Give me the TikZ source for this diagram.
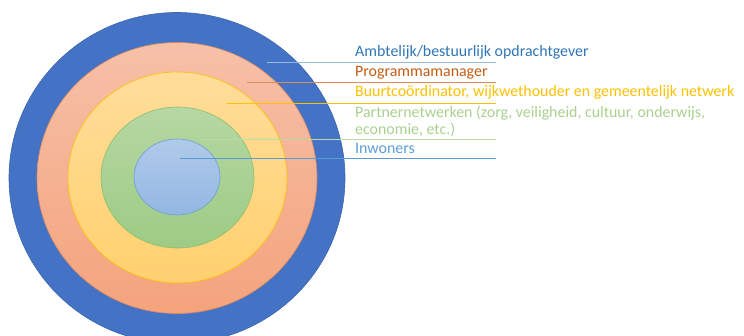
\documentclass[tikz,border=0pt]{standalone}
\usepackage{fontspec}
\setmainfont{Carlito}
\usetikzlibrary{shapes.geometric}

\definecolor{outerblue}{HTML}{4472C4}
\definecolor{outerrim}{HTML}{3A64B0}
\definecolor{salmontop}{HTML}{F6C0A8}
\definecolor{salmonbot}{HTML}{F4A37C}
\definecolor{salmonrim}{HTML}{D98A60}
\definecolor{yellowtop}{HTML}{FFDD9A}
\definecolor{yellowbot}{HTML}{FFD06E}
\definecolor{yellowrim}{HTML}{FFC000}
\definecolor{greentop}{HTML}{B6D7A3}
\definecolor{greenbot}{HTML}{9DCB84}
\definecolor{greenrim}{HTML}{8CBF6C}
\definecolor{bluetop}{HTML}{B0CAEA}
\definecolor{bluebot}{HTML}{93B7E2}
\definecolor{bluerim}{HTML}{6A9FD6}
\definecolor{ambtxt}{HTML}{2E75B6}
\definecolor{progtxt}{HTML}{C55A11}
\definecolor{buurttxt}{HTML}{FFC000}
\definecolor{partnertxt}{HTML}{A9D18E}
\definecolor{inwtxt}{HTML}{5B9BD5}

\begin{document}
\begin{tikzpicture}[x=1pt, y=-1pt,
    ring/.style={ellipse, draw, line width=0.6pt, inner sep=0pt},
    lbl/.style={anchor=base west, inner sep=0pt, font=\fontsize{15.9}{17.5}\selectfont},
    lead/.style={line width=0.7pt}]
    \useasboundingbox (0,0) rectangle (744,336);
    \clip (0,0) rectangle (744,336);

    % Rings
    \node[ring, draw=outerrim, fill=outerblue, minimum width=336pt, minimum height=331pt] (amb) at (177,178) {};
    \node[ring, draw=salmonrim, top color=salmontop, bottom color=salmonbot, minimum width=280pt, minimum height=271pt] (prog) at (177,178) {};
    \node[ring, draw=yellowrim, top color=yellowtop, bottom color=yellowbot, minimum width=219pt, minimum height=211pt] (buurt) at (177.5,177.5) {};
    \node[ring, draw=greenrim, top color=greentop, bottom color=greenbot, minimum width=153pt, minimum height=141pt] (partner) at (177.5,177.5) {};
    \node[ring, draw=bluerim, top color=bluetop, bottom color=bluebot, minimum width=86pt, minimum height=76pt] (inw) at (177,177) {};

    % Labels
    \node[lbl, text=ambtxt] (lamb) at (355,57) {Ambtelijk/bestuurlijk opdrachtgever};
    \node[lbl, text=progtxt] (lprog) at (355,77) {Programmamanager};
    \node[lbl, text=buurttxt] (lbuurt) at (355,97) {Buurtcoördinator, wijkwethouder en gemeentelijk netwerk};
    \node[lbl, text=partnertxt, align=left] (lpartner) at (355,135) {Partnernetwerken (zorg, veiligheid, cultuur, onderwijs,\\economie, etc.)};
    \node[lbl, text=inwtxt] (linw) at (355,154) {Inwoners};

    % Leader lines
    \coordinate (lineend) at (496,0);
    \coordinate (pamb) at (267,62);
    \coordinate (pprog) at (247,82.5);
    \coordinate (pbuurt) at (227,103);
    \coordinate (ppartner) at (200,139);
    \coordinate (pinw) at (180,158);
    \draw[lead, color=bluetop!80!ambtxt] (pamb) -- (pamb -| lineend);
    \draw[lead, color=salmonrim] (pprog) -- (pprog -| lineend);
    \draw[lead, color=yellowrim] (pbuurt) -- (pbuurt -| lineend);
    \draw[lead, color=partnertxt!80!white] (ppartner) -- (ppartner -| lineend);
    \draw[lead, color=inwtxt] (pinw) -- (pinw -| lineend);
\end{tikzpicture}
\end{document}
